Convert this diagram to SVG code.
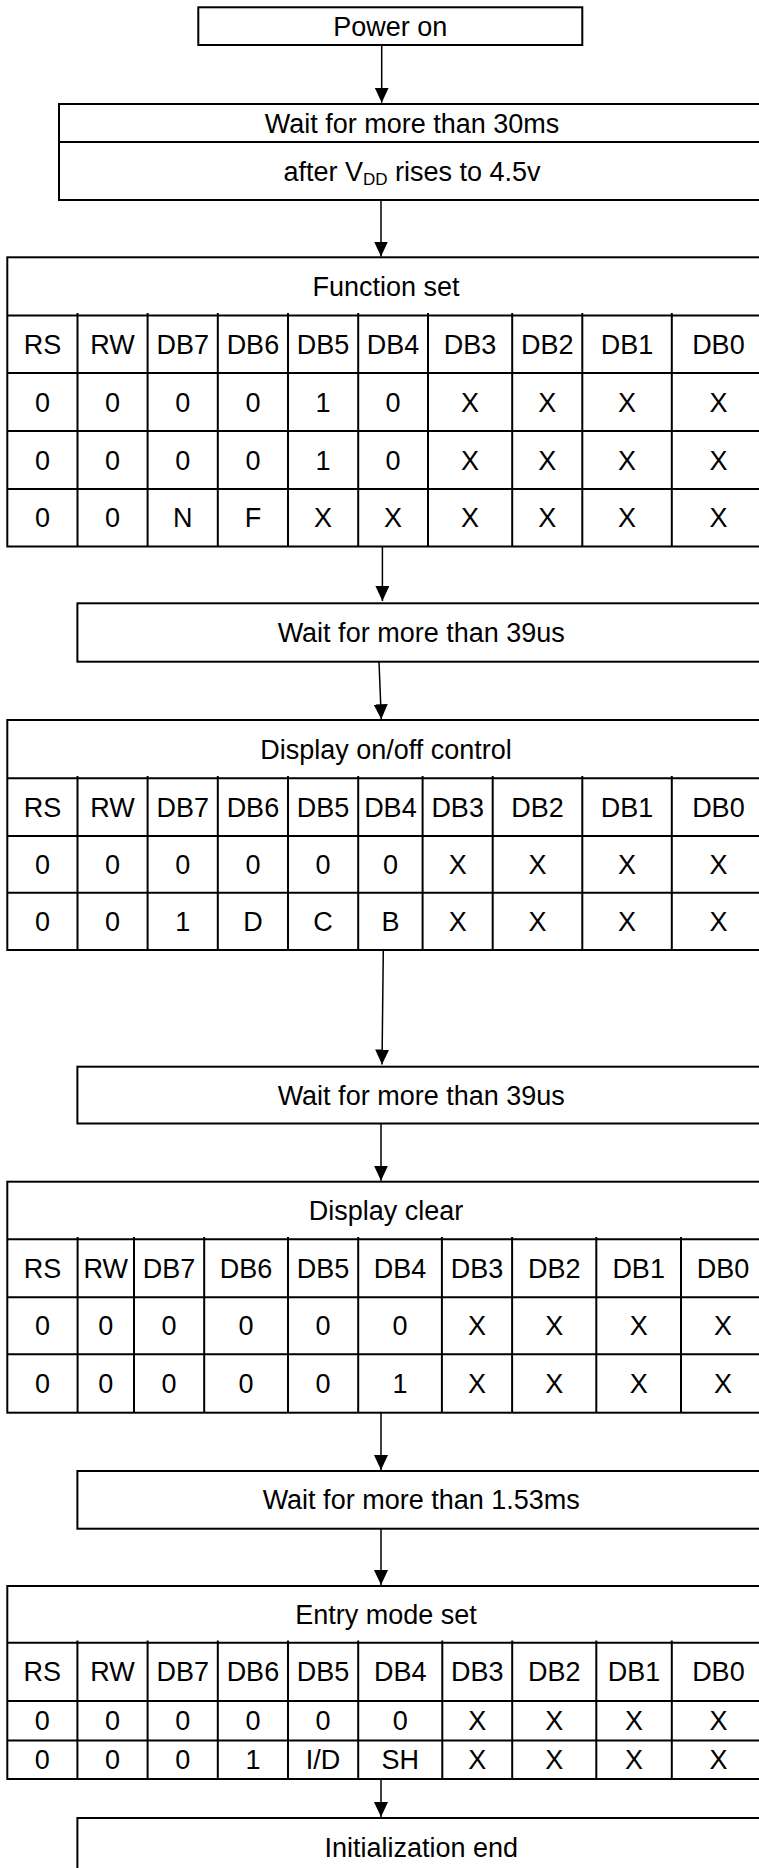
<svg xmlns="http://www.w3.org/2000/svg" width="759" height="1868" viewBox="0 0 759 1868">
<style>
.b{fill:none;stroke:#000;stroke-width:2}
.l{stroke:#000;stroke-width:2}
.c{stroke:#000;stroke-width:1.5;fill:none}
text{font-family:"Liberation Sans",Arial,sans-serif;font-size:27px;text-anchor:middle;fill:#000}
</style>
<defs>
<marker id="ah" markerUnits="userSpaceOnUse" markerWidth="16" markerHeight="14" refX="15" refY="7" orient="auto">
<path d="M0,0 L15,7 L0,14 Z" fill="#000"/>
</marker>
</defs>
<rect width="759" height="1868" fill="#fff"/>

<g id="connectors">
<line class="c" x1="381.7" y1="45" x2="381.7" y2="102.7" marker-end="url(#ah)"/>
<line class="c" x1="381" y1="200" x2="381" y2="256.5" marker-end="url(#ah)"/>
<line class="c" x1="382.4" y1="546.5" x2="382.4" y2="601" marker-end="url(#ah)"/>
<line class="c" x1="379" y1="661.7" x2="381.3" y2="719.3" marker-end="url(#ah)"/>
<line class="c" x1="383.3" y1="950" x2="382" y2="1064.5" marker-end="url(#ah)"/>
<line class="c" x1="381" y1="1123.5" x2="381" y2="1180.7" marker-end="url(#ah)"/>
<line class="c" x1="381" y1="1412.7" x2="381" y2="1470" marker-end="url(#ah)"/>
<line class="c" x1="381" y1="1528.7" x2="381" y2="1585" marker-end="url(#ah)"/>
<line class="c" x1="381" y1="1779" x2="381" y2="1817" marker-end="url(#ah)"/>
</g>

<g id="power-on">
<rect class="b" x="198.3" y="7.3" width="384" height="37.7"/>
<text x="390.3" y="35.7" font-size="26.5">Power on</text>
</g>

<g id="wait-30ms">
<rect class="b" x="59" y="104" width="706" height="96"/>
<line class="l" x1="59" y1="142" x2="765" y2="142"/>
<text x="412" y="132.5">Wait for more than 30ms</text>
<text x="412" y="180.5">after V<tspan font-size="17" dy="4">DD</tspan><tspan dy="-4"> rises to 4.5v</tspan></text>
</g>

<g id="function-set">
<rect class="b" x="7.3" y="257.3" width="757.7" height="289.2"/>
<line class="l" x1="7.3" y1="315.5" x2="765" y2="315.5"/>
<line class="l" x1="7.3" y1="373" x2="765" y2="373"/>
<line class="l" x1="7.3" y1="431" x2="765" y2="431"/>
<line class="l" x1="7.3" y1="489" x2="765" y2="489"/>
<line class="l" x1="77.5" y1="313" x2="77.5" y2="546.5"/>
<line class="l" x1="147.6" y1="313" x2="147.6" y2="546.5"/>
<line class="l" x1="217.8" y1="313" x2="217.8" y2="546.5"/>
<line class="l" x1="288" y1="313" x2="288" y2="546.5"/>
<line class="l" x1="358.2" y1="313" x2="358.2" y2="546.5"/>
<line class="l" x1="428" y1="313" x2="428" y2="546.5"/>
<line class="l" x1="512.2" y1="313" x2="512.2" y2="546.5"/>
<line class="l" x1="582.3" y1="313" x2="582.3" y2="546.5"/>
<line class="l" x1="671.8" y1="313" x2="671.8" y2="546.5"/>
<text x="386" y="295.9">Function set</text>
<text x="42.4" y="353.7">RS</text><text x="112.55" y="353.7">RW</text><text x="182.7" y="353.7">DB7</text><text x="252.9" y="353.7">DB6</text><text x="323.1" y="353.7">DB5</text><text x="393.1" y="353.7">DB4</text><text x="470.1" y="353.7">DB3</text><text x="547.25" y="353.7">DB2</text><text x="627.05" y="353.7">DB1</text><text x="718.4" y="353.7">DB0</text>
<text x="42.4" y="411.5">0</text><text x="112.55" y="411.5">0</text><text x="182.7" y="411.5">0</text><text x="252.9" y="411.5">0</text><text x="323.1" y="411.5">1</text><text x="393.1" y="411.5">0</text><text x="470.1" y="411.5">X</text><text x="547.25" y="411.5">X</text><text x="627.05" y="411.5">X</text><text x="718.4" y="411.5">X</text>
<text x="42.4" y="469.5">0</text><text x="112.55" y="469.5">0</text><text x="182.7" y="469.5">0</text><text x="252.9" y="469.5">0</text><text x="323.1" y="469.5">1</text><text x="393.1" y="469.5">0</text><text x="470.1" y="469.5">X</text><text x="547.25" y="469.5">X</text><text x="627.05" y="469.5">X</text><text x="718.4" y="469.5">X</text>
<text x="42.4" y="527.2">0</text><text x="112.55" y="527.2">0</text><text x="182.7" y="527.2">N</text><text x="252.9" y="527.2">F</text><text x="323.1" y="527.2">X</text><text x="393.1" y="527.2">X</text><text x="470.1" y="527.2">X</text><text x="547.25" y="527.2">X</text><text x="627.05" y="527.2">X</text><text x="718.4" y="527.2">X</text>
</g>

<g id="wait-39us-1">
<rect class="b" x="77.4" y="603.3" width="687.6" height="58.4"/>
<text x="421.2" y="642">Wait for more than 39us</text>
</g>

<g id="display-onoff">
<rect class="b" x="7.3" y="720" width="757.7" height="230"/>
<line class="l" x1="7.3" y1="778.3" x2="765" y2="778.3"/>
<line class="l" x1="7.3" y1="836" x2="765" y2="836"/>
<line class="l" x1="7.3" y1="892.7" x2="765" y2="892.7"/>
<line class="l" x1="77.5" y1="776" x2="77.5" y2="950"/>
<line class="l" x1="147.6" y1="776" x2="147.6" y2="950"/>
<line class="l" x1="217.8" y1="776" x2="217.8" y2="950"/>
<line class="l" x1="288" y1="776" x2="288" y2="950"/>
<line class="l" x1="358.2" y1="776" x2="358.2" y2="950"/>
<line class="l" x1="422.6" y1="776" x2="422.6" y2="950"/>
<line class="l" x1="492.7" y1="776" x2="492.7" y2="950"/>
<line class="l" x1="582.3" y1="776" x2="582.3" y2="950"/>
<line class="l" x1="671.8" y1="776" x2="671.8" y2="950"/>
<text x="386" y="758.6">Display on/off control</text>
<text x="42.4" y="816.6">RS</text><text x="112.55" y="816.6">RW</text><text x="182.7" y="816.6">DB7</text><text x="252.9" y="816.6">DB6</text><text x="323.1" y="816.6">DB5</text><text x="390.4" y="816.6">DB4</text><text x="457.65" y="816.6">DB3</text><text x="537.5" y="816.6">DB2</text><text x="627.05" y="816.6">DB1</text><text x="718.4" y="816.6">DB0</text>
<text x="42.4" y="873.8">0</text><text x="112.55" y="873.8">0</text><text x="182.7" y="873.8">0</text><text x="252.9" y="873.8">0</text><text x="323.1" y="873.8">0</text><text x="390.4" y="873.8">0</text><text x="457.65" y="873.8">X</text><text x="537.5" y="873.8">X</text><text x="627.05" y="873.8">X</text><text x="718.4" y="873.8">X</text>
<text x="42.4" y="930.8">0</text><text x="112.55" y="930.8">0</text><text x="182.7" y="930.8">1</text><text x="252.9" y="930.8">D</text><text x="323.1" y="930.8">C</text><text x="390.4" y="930.8">B</text><text x="457.65" y="930.8">X</text><text x="537.5" y="930.8">X</text><text x="627.05" y="930.8">X</text><text x="718.4" y="930.8">X</text>
</g>

<g id="wait-39us-2">
<rect class="b" x="77.4" y="1066.7" width="687.6" height="56.8"/>
<text x="421.2" y="1104.6">Wait for more than 39us</text>
</g>

<g id="display-clear">
<rect class="b" x="7.3" y="1181.7" width="757.7" height="231"/>
<line class="l" x1="7.3" y1="1239.3" x2="765" y2="1239.3"/>
<line class="l" x1="7.3" y1="1297.3" x2="765" y2="1297.3"/>
<line class="l" x1="7.3" y1="1354.3" x2="765" y2="1354.3"/>
<line class="l" x1="77.6" y1="1237" x2="77.6" y2="1412.7"/>
<line class="l" x1="134" y1="1237" x2="134" y2="1412.7"/>
<line class="l" x1="204.2" y1="1237" x2="204.2" y2="1412.7"/>
<line class="l" x1="288" y1="1237" x2="288" y2="1412.7"/>
<line class="l" x1="358.2" y1="1237" x2="358.2" y2="1412.7"/>
<line class="l" x1="441.9" y1="1237" x2="441.9" y2="1412.7"/>
<line class="l" x1="512.1" y1="1237" x2="512.1" y2="1412.7"/>
<line class="l" x1="596.3" y1="1237" x2="596.3" y2="1412.7"/>
<line class="l" x1="681" y1="1237" x2="681" y2="1412.7"/>
<text x="386" y="1220">Display clear</text>
<text x="42.45" y="1277.8">RS</text><text x="105.8" y="1277.8">RW</text><text x="169.1" y="1277.8">DB7</text><text x="246.1" y="1277.8">DB6</text><text x="323.1" y="1277.8">DB5</text><text x="400.05" y="1277.8">DB4</text><text x="477" y="1277.8">DB3</text><text x="554.2" y="1277.8">DB2</text><text x="638.65" y="1277.8">DB1</text><text x="723" y="1277.8">DB0</text>
<text x="42.45" y="1335.3">0</text><text x="105.8" y="1335.3">0</text><text x="169.1" y="1335.3">0</text><text x="246.1" y="1335.3">0</text><text x="323.1" y="1335.3">0</text><text x="400.05" y="1335.3">0</text><text x="477" y="1335.3">X</text><text x="554.2" y="1335.3">X</text><text x="638.65" y="1335.3">X</text><text x="723" y="1335.3">X</text>
<text x="42.45" y="1393">0</text><text x="105.8" y="1393">0</text><text x="169.1" y="1393">0</text><text x="246.1" y="1393">0</text><text x="323.1" y="1393">0</text><text x="400.05" y="1393">1</text><text x="477" y="1393">X</text><text x="554.2" y="1393">X</text><text x="638.65" y="1393">X</text><text x="723" y="1393">X</text>
</g>

<g id="wait-1-53ms">
<rect class="b" x="77.4" y="1471" width="687.6" height="57.7"/>
<text x="421.2" y="1509.4">Wait for more than 1.53ms</text>
</g>

<g id="entry-mode-set">
<rect class="b" x="7.3" y="1586" width="757.7" height="193"/>
<line class="l" x1="7.3" y1="1642.7" x2="765" y2="1642.7"/>
<line class="l" x1="7.3" y1="1701" x2="765" y2="1701"/>
<line class="l" x1="7.3" y1="1740.5" x2="765" y2="1740.5"/>
<line class="l" x1="77.4" y1="1640.5" x2="77.4" y2="1779"/>
<line class="l" x1="147.6" y1="1640.5" x2="147.6" y2="1779"/>
<line class="l" x1="217.8" y1="1640.5" x2="217.8" y2="1779"/>
<line class="l" x1="288" y1="1640.5" x2="288" y2="1779"/>
<line class="l" x1="358.2" y1="1640.5" x2="358.2" y2="1779"/>
<line class="l" x1="442.3" y1="1640.5" x2="442.3" y2="1779"/>
<line class="l" x1="512.2" y1="1640.5" x2="512.2" y2="1779"/>
<line class="l" x1="596.3" y1="1640.5" x2="596.3" y2="1779"/>
<line class="l" x1="671.8" y1="1640.5" x2="671.8" y2="1779"/>
<text x="386" y="1623.8">Entry mode set</text>
<text x="42.35" y="1681.3">RS</text><text x="112.5" y="1681.3">RW</text><text x="182.7" y="1681.3">DB7</text><text x="252.9" y="1681.3">DB6</text><text x="323.1" y="1681.3">DB5</text><text x="400.25" y="1681.3">DB4</text><text x="477.25" y="1681.3">DB3</text><text x="554.25" y="1681.3">DB2</text><text x="634.05" y="1681.3">DB1</text><text x="718.4" y="1681.3">DB0</text>
<text x="42.35" y="1730.2">0</text><text x="112.5" y="1730.2">0</text><text x="182.7" y="1730.2">0</text><text x="252.9" y="1730.2">0</text><text x="323.1" y="1730.2">0</text><text x="400.25" y="1730.2">0</text><text x="477.25" y="1730.2">X</text><text x="554.25" y="1730.2">X</text><text x="634.05" y="1730.2">X</text><text x="718.4" y="1730.2">X</text>
<text x="42.35" y="1769.2">0</text><text x="112.5" y="1769.2">0</text><text x="182.7" y="1769.2">0</text><text x="252.9" y="1769.2">1</text><text x="323.1" y="1769.2">I/D</text><text x="400.25" y="1769.2">SH</text><text x="477.25" y="1769.2">X</text><text x="554.25" y="1769.2">X</text><text x="634.05" y="1769.2">X</text><text x="718.4" y="1769.2">X</text>
</g>

<g id="initialization-end">
<rect class="b" x="77.4" y="1818" width="687.6" height="58"/>
<text x="421.2" y="1856.7">Initialization end</text>
</g>
</svg>
